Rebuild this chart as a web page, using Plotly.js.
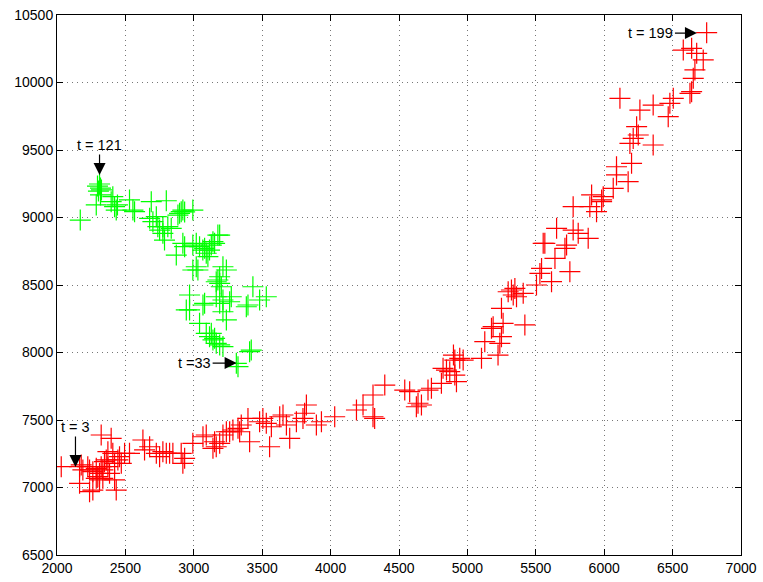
<!DOCTYPE html>
<html>
<head>
<meta charset="utf-8">
<script src="https://cdn.plot.ly/plotly-3.0.1.min.js"></script>
<style>html,body{margin:0;padding:0;background:#fff;}#chart{width:763px;height:582px;}</style>
</head>
<body>
<div id="chart"></div>
<script>
// Red track (t = 3..32 and t = 122..199)
const redX = [2031,2165,2323,2396,2177,2189,2225,2238,2262,2287,2311,2335,2298,2311,2335,2165,2262,2238,2433,2421,2384,2372,2421,2445,2457,2408,2372,2494,2530,2360,2470,2287,2323,2347,2628,2640,2677,2726,2774,2799,2823,2750,2847,2908,2933,2920,2993,3067,
  3091,3140,3164,3189,3152,3213,3238,3262,3286,3323,3347,3335,3396,3408,3481,3505,3530,3554,3567,3628,3652,3677,3701,3750,3798,3823,3810,3896,3933,4030,4189,4237,4310,4310,4322,4396,
  4542,4578,4639,4664,4627,4712,4737,4810,4822,4847,4871,4908,4920,4898,4908,4944,4969,5103,5224,5127,5237,5176,5249,5261,5249,5420,5188,
  5298,5322,5335,5359,5347,5408,5505,5542,5530,5615,5640,5749,5566,5725,5713,5773,5810,5883,5652,5554,
  5773,5895,5944,5908,5993,5981,5981,6066,6090,6175,6090,6200,6188,6212,6249,6237,6358,6261,6358,6115,6468,6480,6505,6627,6639,6651,6663,6724,6676,6639,6578,6749];
const redY = [7154,7154,7389,7364,7167,7130,7154,7130,7117,7142,7105,7130,7080,7056,7068,7031,6981,6969,6981,7056,7105,7154,7179,7204,7228,7253,7265,7253,7253,7204,7179,7068,7154,7191,7352,7278,7302,7253,7265,7253,7253,7228,7253,7253,7216,7179,7327,7376,
  7389,7290,7302,7327,7339,7389,7413,7413,7426,7438,7463,7413,7512,7339,7487,7512,7475,7302,7450,7524,7537,7463,7364,7487,7512,7611,7550,7463,7487,7524,7574,7611,7685,7524,7512,7759,
  7722,7710,7624,7611,7598,7722,7735,7772,7883,7870,7858,7833,7784,7981,7944,7957,7944,7957,7981,8080,8068,8179,8117,8216,8327,8204,8191,
  8450,8463,8426,8413,8475,8438,8500,8623,8586,8525,8697,8599,8809,8796,8772,8907,8883,8846,8920,8809,
  9080,9080,9043,9167,9154,9130,9117,9216,9315,9265,9376,9401,9549,9586,9611,9673,9537,9796,9833,9883,9747,9846,9883,9920,9932,10031,10093,10167,10216,10253,10240,10369];

// Green track (t = 33..121)
const greenX = [2170,2311,2318,2303,2318,2296,2325,2287,2396,2408,2433,2421,2442,2530,2567,2555,2689,2799,
  2677,2701,2726,2737,2750,2774,2786,2810,2835,2774,2896,2908,2884,2920,2993,2933,2920,2872,2933,
  2993,3018,3042,3066,3091,3115,3128,3140,3103,3189,3079,3152,3030,3176,3018,2993,3213,3238,3189,3176,3189,3164,3201,
  3432,3530,3481,2969,2969,3079,3164,3189,3213,3274,3262,3396,3213,3238,3042,2945,3067,3384,
  3091,3115,3140,3164,3189,3213,3128,3152,3408,3420,3311,3323];
const greenY = [8981,9248,9218,9196,9167,9233,9204,9093,9117,9154,9055,9080,9093,9130,9043,9055,9117,9124,
  8994,8969,9006,8932,8907,8883,8833,8932,8920,8932,9031,9043,9018,9055,9055,9041,8809,8722,8784,
  8796,8809,8784,8759,8735,8759,8796,8821,8710,8870,8772,8809,8611,8870,8635,8611,8635,8611,8561,8537,8512,8524,8487,
  8487,8413,8389,8426,8315,8364,8413,8364,8389,8413,8376,8352,8302,8241,8216,8315,8352,8339,
  8142,8117,8093,8068,8056,8044,8142,8105,8006,8018,7920,7895];

const xTicks = [2000,2500,3000,3500,4000,4500,5000,5500,6000,6500,7000];
const yTicks = [6500,7000,7500,8000,8500,9000,9500,10000,10500];

const font = {family: 'Liberation Sans, Arial, sans-serif', size: 14, color: '#000'};

function cross(color){
  return {symbol: 'cross-thin-open', size: 15, color: color, line: {color: color, width: 1.2}};
}

const traces = [
  {x: redX, y: redY, type: 'scatter', mode: 'markers', marker: cross('#ff0000'), hoverinfo: 'x+y'},
  {x: greenX, y: greenY, type: 'scatter', mode: 'markers', marker: cross('#00ff00'), hoverinfo: 'x+y'}
];

const axisCommon = {
  showline: true, linecolor: '#000', linewidth: 1, mirror: 'ticks',
  ticks: 'inside', ticklen: 6, tickcolor: '#000',
  showgrid: true, gridcolor: '#777', griddash: '1px,4px', gridwidth: 1,
  zeroline: false, tickfont: font
};

const ann = (x, y, text, ax, ay) => ({
  x: x, y: y, xref: 'x', yref: 'y', text: text, showarrow: true,
  arrowhead: 2, arrowsize: 2, arrowwidth: 1.2, arrowcolor: '#000',
  ax: ax, ay: ay, font: {family: 'Liberation Sans, Arial, sans-serif', size: 14.5, color: '#000'}
});

const layout = {
  width: 763, height: 582,
  margin: {l: 57, r: 22, t: 15, b: 27},
  paper_bgcolor: '#fff', plot_bgcolor: '#fff',
  showlegend: false,
  xaxis: Object.assign({}, axisCommon, {range: [2000, 7000], tickvals: xTicks, ticktext: xTicks.map(String)}),
  yaxis: Object.assign({}, axisCommon, {range: [6500, 10500], tickvals: yTicks, ticktext: yTicks.map(String)}),
  annotations: [
    ann(2135, 7152, 't = 3', 0, -40),
    ann(2311, 9315, 't = 121', 0, -30),
    ann(3313, 7922, 't =33', -42, 0),
    ann(6678, 10366, 't = 199', -46, 0)
  ]
};

Plotly.newPlot('chart', traces, layout, {displayModeBar: false, staticPlot: true});
</script>
</body>
</html>
